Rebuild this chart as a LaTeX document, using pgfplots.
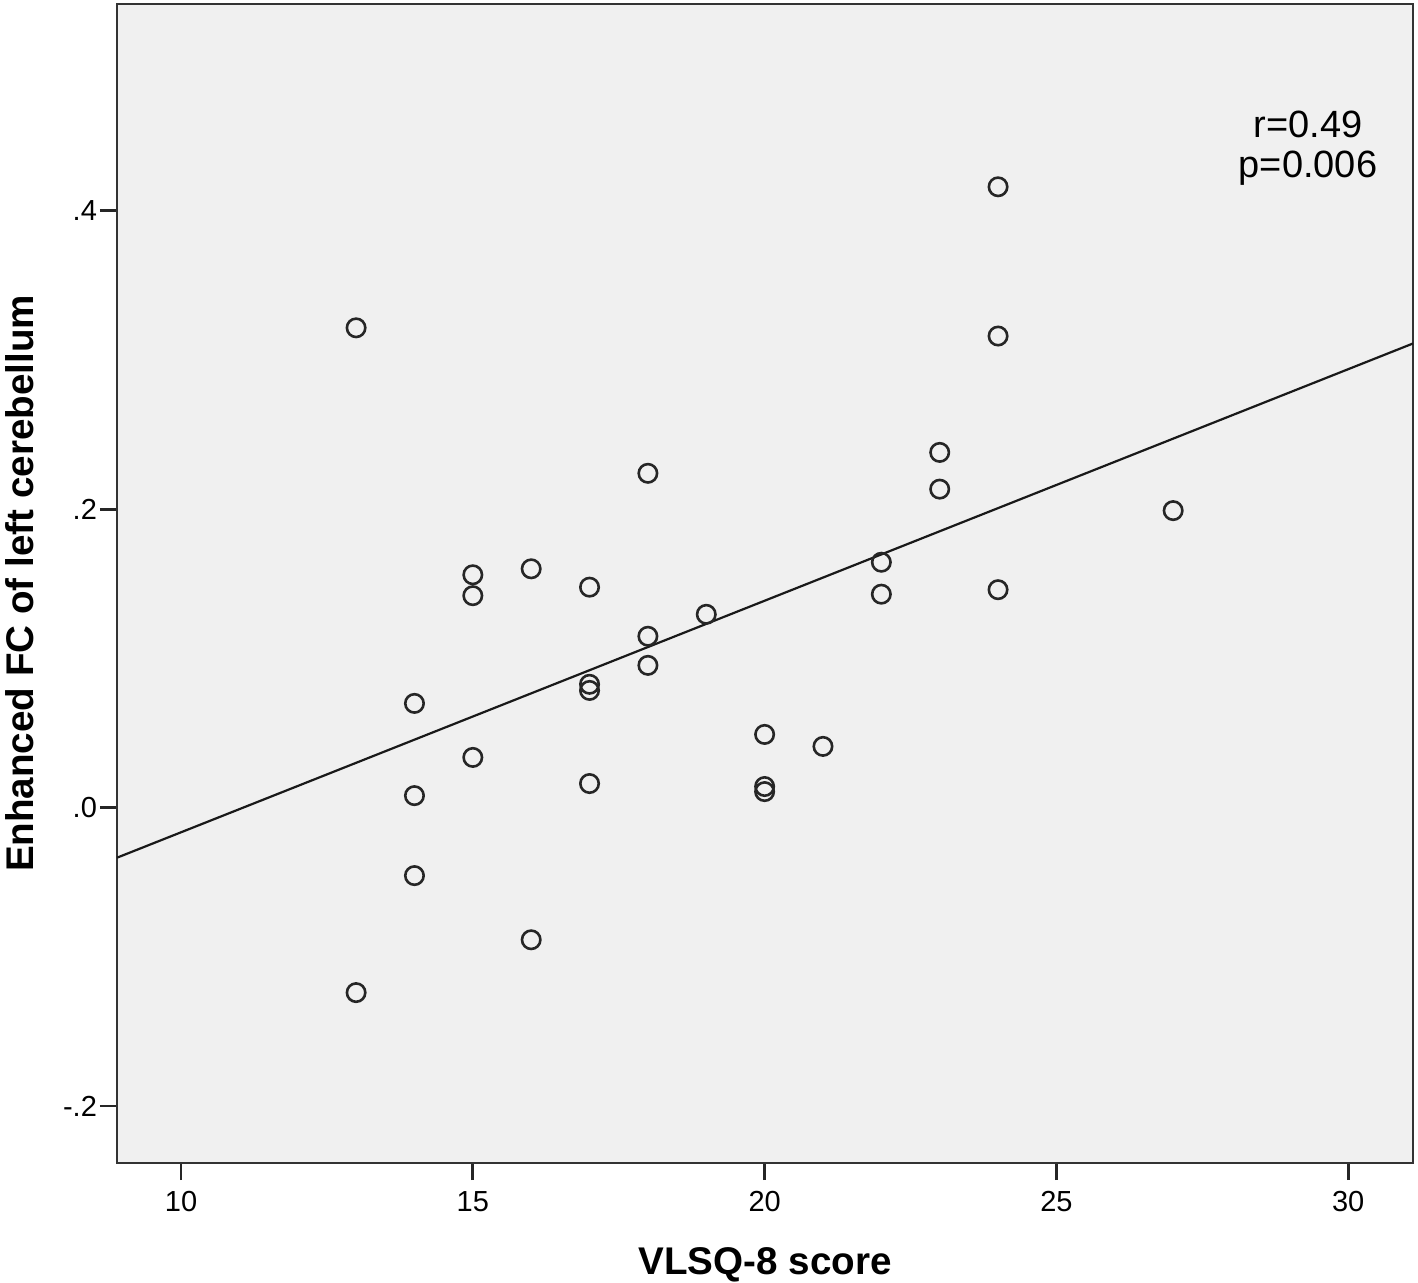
\documentclass[border=0pt]{standalone}
\usepackage{fontspec}
\setmainfont{Liberation Sans}
\usepackage{pgfplots}
\pgfplotsset{compat=1.18}
\definecolor{bg}{HTML}{F0F0F0}
\begin{document}
\begin{tikzpicture}
\begin{axis}[
  at={(0,0)}, anchor=south west,
  scale only axis, width=648pt, height=579.5pt,
  xmin=8.903, xmax=31.11, ymin=-0.2382, ymax=0.5385,
  axis background/.style={fill=bg},
  axis line style={black!80, line width=1.4pt},
  xtick={10,15,20,25,30}, ytick={-0.2,0,0.2,0.4},
  yticklabels={-.2,.0,.2,.4},
  tick align=outside, xtick pos=bottom, ytick pos=left,
  major tick length=8.5pt,
  tick style={black!85, line width=1.4pt},
  /pgf/number format/assume math mode=true,
  ticklabel style={font=\fontsize{14.5}{16}\selectfont},
  yticklabel style={xshift=2pt},
  xticklabel style={yshift=-2pt},
  xlabel={VLSQ-8 score}, ylabel={Enhanced FC of left cerebellum},
  label style={font=\bfseries\fontsize{19.3}{22}\selectfont},
  xlabel style={at={(axis description cs:0.5,-0.0966)}, anchor=base},
  ylabel style={at={(axis description cs:-0.0748,0.5)}, anchor=center},
]
\addplot[only marks, mark=o, mark size=4.6pt, mark options={black!85, line width=1.3pt, fill=none}] coordinates {
(13,0.3215) (13,-0.124)
(14,0.0698) (14,0.008) (14,-0.0456)
(15,0.156) (15,0.142) (15,0.0336)
(16,0.160) (16,-0.0886)
(17,0.1477) (17,0.0826) (17,0.0785) (17,0.0161)
(18,0.224) (18,0.1148) (18,0.0953)
(19,0.1295)
(20,0.049) (20,0.0141) (20,0.0107)
(21,0.041)
(22,0.1644) (22,0.143)
(23,0.238) (23,0.2134)
(24,0.416) (24,0.316) (24,0.146)
(27,0.199)
};
\addplot[black!90, line width=1.1pt] coordinates {(8.903,-0.0336) (31.11,0.311)};
\node[align=center, font=\fontsize{19}{20}\selectfont] at (axis cs:29.31,0.442) {r=0.49\\p=0.006};
\end{axis}
\pgfresetboundingbox
\useasboundingbox (-58.5pt,-59.5pt) rectangle (650.5pt,581.5pt);
\end{tikzpicture}
\end{document}
